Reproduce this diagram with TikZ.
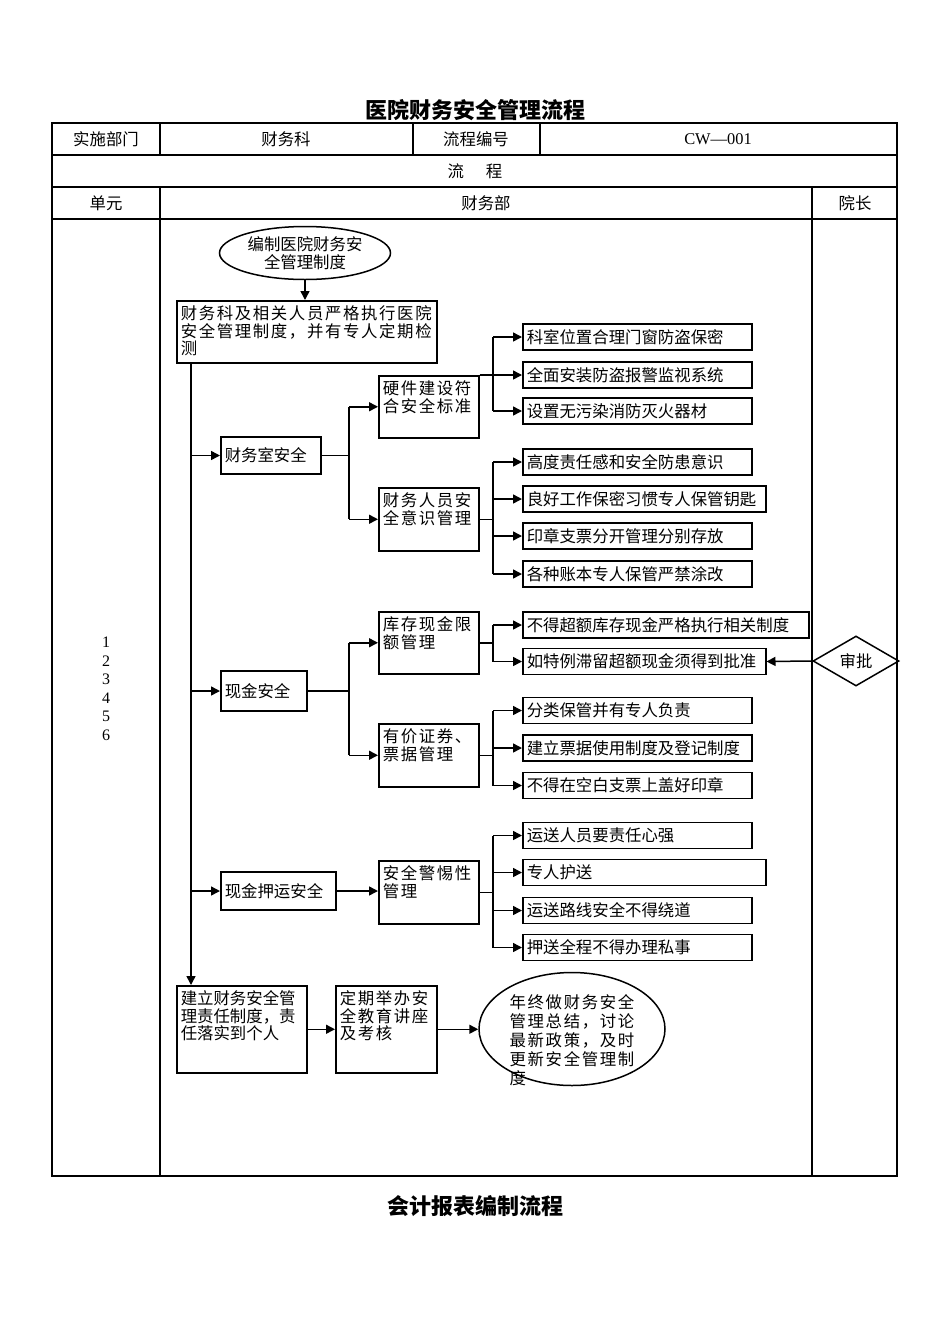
\documentclass[tikz,border=0pt]{standalone}
\usepackage{fontspec}
\setmainfont{Noto Sans CJK SC}
\newfontfamily\cjkwide{Noto Sans CJK SC}[LetterSpace=10]
\newfontfamily\serifnum{Liberation Serif}
\usetikzlibrary{shapes.geometric, arrows.meta, positioning, calc}
\newdimen\pxu \pxu=0.5pt
\newcommand{\bodyfont}{\fontsize{8.2}{8.75}\selectfont}
\newcommand{\titlefont}{\fontsize{11}{13}\selectfont\bfseries}
\newcommand{\topbox}[3]{\parbox[c][#2\pxu][t]{#1\pxu}{#3}}

\begin{document}
\begin{tikzpicture}[x=0.5pt, y=-0.5pt,
  hd/.style={font=\bodyfont, inner sep=0pt},
  blk/.style={draw, line width=0.75pt, anchor=north west, inner xsep=4\pxu, inner ysep=5\pxu, font=\cjkwide\bodyfont},
  item/.style={draw, line width=0.75pt, anchor=west, minimum height=26\pxu, inner xsep=4\pxu, inner ysep=0pt, text width=#1\pxu, align=left, font=\bodyfont},
  item/.default=221,
  oval/.style={ellipse, draw, line width=0.75pt, inner sep=0pt, align=center, font=\bodyfont},
  link/.style={line width=0.75pt},
  arr/.style={line width=0.75pt, -{Triangle[length=4.5pt, width=4.5pt]}},
  tbl/.style={line width=0.6pt}
]
\useasboundingbox (0,0) rectangle (950,1344);

% Titles
\node[font=\titlefont] (title) at (475,110) {医院财务安全管理流程};
\node[font=\titlefont] (nexttitle) at (475,1206) {会计报表编制流程};

% Table
\draw[tbl] (52,123) rectangle (897,1176);
\foreach \y in {155,187,219} \draw[tbl] (52,\y) -- (897,\y);
\draw[tbl] (160,123) -- (160,155);
\draw[tbl] (413,123) -- (413,155);
\draw[tbl] (540,123) -- (540,155);
\draw[tbl] (160,187) -- (160,1176);
\draw[tbl] (812,187) -- (812,1176);

\node[hd] (dept) at (106,139) {实施部门};
\node[hd] (deptval) at (286,139) {财务科};
\node[hd] (code) at (476,139) {流程编号};
\node[hd, font=\serifnum\bodyfont] (codeval) at (718,139) {CW—001};
\node[hd] (flow) at (475,171) {流\hspace{22\pxu}程};
\node[hd] (unit) at (106,203) {单元};
\node[hd] (finance) at (486,203) {财务部};
\node[hd] (dean) at (855,203) {院长};
\node[hd, font=\serifnum\fontsize{8}{9.25}\selectfont, align=center] (units) at (106,689) {1\\2\\3\\4\\5\\6};

% Flow
\node[oval, minimum width=171\pxu, minimum height=53\pxu] (start) at (305,253) {编制医院财务安\\全管理制度};
\node[blk] (rule) at (176,300) {\topbox{252}{52}{财务科及相关人员严格执行医院\\安全管理制度，并有专人定期检\\测}};
\draw[arr] (start.south) -- (start.south |- rule.north);

\coordinate (trk) at ($(rule.south west)+(15,0)$);
\coordinate (j1) at (349,0);
\coordinate (j2) at (493,0);

% Office safety
\node[item=92, minimum height=37\pxu] (room) at (220,455.5) {财务室安全};
\node[blk] (hw) at (378,375) {\topbox{92}{52}{硬件建设符\\合安全标准}};
\node[blk] (staff) at (378,487) {\topbox{92}{53}{财务人员安\\全意识管理}};
\node[item] (a1) at (522,337) {科室位置合理门窗防盗保密};
\node[item] (a2) at (522,375) {全面安装防盗报警监视系统};
\node[item] (a3) at (522,411) {设置无污染消防灭火器材};
\node[item] (b1) at (522,462) {高度责任感和安全防患意识};
\node[item=235] (b2) at (522,499) {良好工作保密习惯专人保管钥匙};
\node[item] (b3) at (522,536) {印章支票分开管理分别存放};
\node[item] (b4) at (522,574) {各种账本专人保管严禁涂改};

\draw[arr] (trk |- room.west) -- (room.west);
\draw[link] (room.east) -- (j1 |- room.east);
\draw[link] (j1 |- hw.west) -- (j1 |- staff.west);
\draw[arr] (j1 |- hw.west) -- (hw.west);
\draw[arr] (j1 |- staff.west) -- (staff.west);
\draw[arr] (hw.north east) -- (a2.west);
\draw[link] (j2 |- a1.west) -- (j2 |- a3.west);
\foreach \n in {a1,a3} \draw[arr] (j2 |- \n.west) -- (\n.west);
\draw[link] (staff.east) -- (j2 |- staff.east);
\draw[link] (j2 |- b1.west) -- (j2 |- b4.west);
\foreach \n in {b1,b2,b3,b4} \draw[arr] (j2 |- \n.west) -- (\n.west);

% Cash safety
\node[item=78, minimum height=40\pxu] (cash) at (220,691) {现金安全};
\node[blk] (limit) at (378,611) {\topbox{92}{52}{库存现金限\\额管理}};
\node[blk] (bills) at (378,723) {\topbox{92}{53}{有价证券、\\票据管理}};
\node[item=278] (c1) at (522,625) {不得超额库存现金严格执行相关制度};
\node[item=235] (c2) at (522,661.5) {如特例滞留超额现金须得到批准};
\node[item] (d1) at (522,710.5) {分类保管并有专人负责};
\node[item] (d2) at (522,748) {建立票据使用制度及登记制度};
\node[item] (d3) at (522,785.5) {不得在空白支票上盖好印章};
\node[diamond, draw, line width=0.75pt, minimum width=86\pxu, minimum height=50\pxu, inner sep=0pt, font=\bodyfont] (approve) at (856,661) {审批};

\draw[arr] (trk |- cash.west) -- (cash.west);
\draw[link] (cash.east) -- (j1 |- cash.east);
\draw[link] (j1 |- limit.west) -- (j1 |- bills.west);
\draw[arr] (j1 |- limit.west) -- (limit.west);
\draw[arr] (j1 |- bills.west) -- (bills.west);
\draw[link] (limit.east) -- (j2 |- limit.east);
\draw[link] (j2 |- c1.west) -- (j2 |- c2.west);
\foreach \n in {c1,c2} \draw[arr] (j2 |- \n.west) -- (\n.west);
\draw[arr] (approve.west) -- (c2.east);
\draw[link] (bills.east) -- (j2 |- bills.east);
\draw[link] (j2 |- d1.west) -- (j2 |- d3.west);
\foreach \n in {d1,d2,d3} \draw[arr] (j2 |- \n.west) -- (\n.west);

% Cash escort
\node[item=107, minimum height=38\pxu] (escort) at (220,891) {现金押运安全};
\node[blk] (alert) at (378,860) {\topbox{92}{53}{安全警惕性\\管理}};
\node[item] (e1) at (522,835.5) {运送人员要责任心强};
\node[item=235] (e2) at (522,872.5) {专人护送};
\node[item] (e3) at (522,910.5) {运送路线安全不得绕道};
\node[item] (e4) at (522,947.5) {押送全程不得办理私事};

\draw[arr] (trk |- escort.west) -- (escort.west);
\draw[arr] (escort.east) -- (escort.east -| alert.west);
\draw[link] (alert.east) -- (j2 |- alert.east);
\draw[link] (j2 |- e1.west) -- (j2 |- e4.west);
\foreach \n in {e1,e2,e3,e4} \draw[arr] (j2 |- \n.west) -- (\n.west);

% Responsibility and review
\node[blk, font=\bodyfont] (duty) at (176,985) {\topbox{122}{77}{建立财务安全管\\理责任制度，责\\任落实到个人}};
\node[blk] (train) at (335,985) {\topbox{93}{77}{定期举办安\\全教育讲座\\及考核}};
\node[ellipse, draw, line width=0.75pt, minimum width=186\pxu, minimum height=113\pxu] (review) at (572,1029) {};
\node[font=\cjkwide\fontsize{8.2}{9.5}\selectfont, align=left, inner sep=0pt] (reviewtxt) at (572,1040) {年终做财务安全\\管理总结，讨论\\最新政策，及时\\更新安全管理制\\度};

\draw[arr] (trk) -- (trk |- duty.north);
\draw[arr] (duty.east) -- (train.west);
\draw[arr] (train.east) -- (train.east -| review.west);

\end{tikzpicture}
\end{document}
